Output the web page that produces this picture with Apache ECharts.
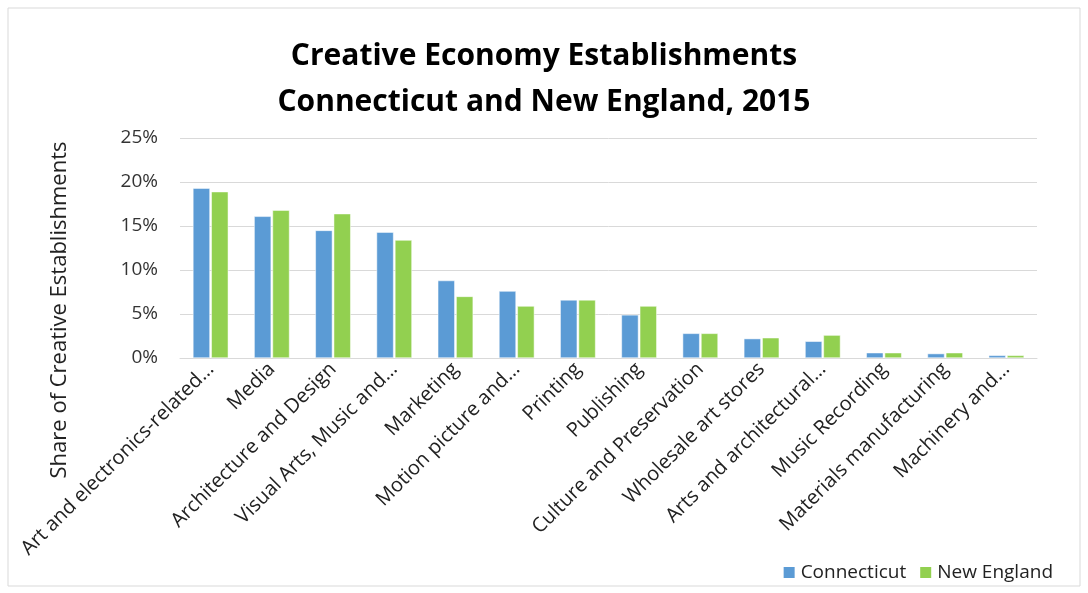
<!DOCTYPE html>
<html>
<head>
  <meta charset="utf-8">
  <script src="https://cdn.jsdelivr.net/npm/echarts@6.0.0/dist/echarts.min.js"></script>
  <style>
    html, body { margin: 0; padding: 0; background: #fff; }
    #chart { width: 1088px; height: 593px; }
  </style>
</head>
<body>
  <div id="chart"></div>
  <script>
    // data (share of creative establishments, %)
    var categories = [
      'Art and electronics-related…', 'Media', 'Architecture and Design',
      'Visual Arts, Music and…', 'Marketing', 'Motion picture and…',
      'Printing', 'Publishing', 'Culture and Preservation',
      'Wholesale art stores', 'Arts and architectural…', 'Music Recording',
      'Materials manufacturing', 'Machinery and…'
    ];
    var connecticut = [19.3, 16.1, 14.5, 14.3, 8.8, 7.6, 6.6, 4.9, 2.8, 2.2, 1.9, 0.6, 0.5, 0.3];
    var newEngland = [18.9, 16.8, 16.4, 13.4, 7.0, 5.9, 6.6, 5.9, 2.8, 2.3, 2.6, 0.6, 0.6, 0.3];
    var yTicks = [0, 5, 10, 15, 20, 25];

    var chart = echarts.init(document.getElementById('chart'));
    var font = '"Open Sans", "Liberation Sans", sans-serif';

    var option = {
      backgroundColor: '#fff',
      color: ['#5B9BD5', '#92D050'],
      title: {
        text: 'Creative Economy Establishments\nConnecticut and New England, 2015',
        left: 'center',
        top: 28,
        textStyle: {
          fontFamily: font, fontSize: 30, fontWeight: 'bold', color: '#000', lineHeight: 46
        }
      },
      legend: {
        data: ['Connecticut', 'New England'],
        right: 30,
        bottom: 6,
        itemWidth: 13,
        itemHeight: 13,
        itemGap: 12,
        icon: 'rect',
        textStyle: { fontFamily: font, fontSize: 19, color: '#222' }
      },
      grid: { left: 180, right: 51, top: 138, bottom: 235, containLabel: false },
      xAxis: {
        type: 'category',
        data: categories,
        axisLine: { lineStyle: { color: '#d9d9d9', width: 1 } },
        axisTick: { show: false },
        axisLabel: {
          rotate: 45, interval: 0, margin: 8,
          fontFamily: font, fontSize: 20, color: '#222'
        }
      },
      yAxis: {
        type: 'value',
        min: yTicks[0],
        max: yTicks[yTicks.length - 1],
        interval: 5,
        axisLine: { show: false },
        axisTick: { show: false },
        splitLine: { lineStyle: { color: '#d9d9d9', width: 1 } },
        axisLabel: {
          margin: 22,
          fontFamily: font, fontSize: 19, color: '#333',
          formatter: '{value}%'
        }
      },
      graphic: [
        {
          type: 'rect',
          shape: { x: 8, y: 8, width: 1072, height: 578 },
          style: { fill: 'none', stroke: '#d9d9d9', lineWidth: 1 }
        },
        {
          type: 'text',
          x: 60, y: 310, rotation: Math.PI / 2,
          style: {
            text: 'Share of Creative Establishments',
            fontFamily: font, fontSize: 22, fill: '#222',
            align: 'center', verticalAlign: 'middle'
          }
        }
      ],
      series: [
        {
          name: 'Connecticut', type: 'bar', data: connecticut,
          barWidth: 17, barGap: '8%',
          itemStyle: { borderColor: '#fff', borderWidth: 0.5 }
        },
        {
          name: 'New England', type: 'bar', data: newEngland,
          barWidth: 17,
          itemStyle: { borderColor: '#fff', borderWidth: 0.5 }
        }
      ]
    };

    chart.setOption(option);
  </script>
</body>
</html>
